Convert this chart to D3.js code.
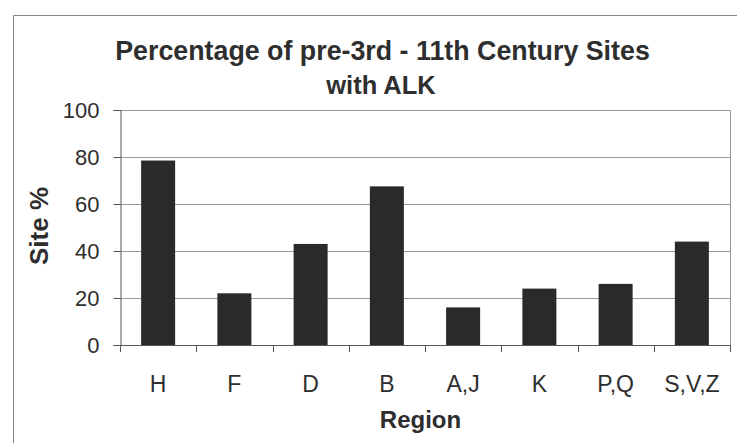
<!DOCTYPE html>
<html>
<head>
<meta charset="utf-8">
<script src="https://cdn.jsdelivr.net/npm/d3@7"></script>
<style>
  html, body { margin: 0; padding: 0; background: #fff; }
  svg { display: block; font-family: "Liberation Sans", Arial, sans-serif; }
</style>
</head>
<body>
<svg id="chart" width="737" height="443"></svg>
<script>
const categories = ["H", "F", "D", "B", "A,J", "K", "P,Q", "S,V,Z"];
const values = [78.5, 22, 43, 67.5, 16, 24, 26, 44];
const yTicks = [0, 20, 40, 60, 80, 100];
const titleLines = ["Percentage of pre-3rd - 11th Century Sites", "with ALK"];
const xTitle = "Region";
const yTitle = "Site %";

const svg = d3.select("#chart");
const W = 737, H = 443;
const plot = { left: 120, right: 730, top: 110, bottom: 345 };
const textColor = "#2e2e2e";

svg.append("rect").attr("width", W).attr("height", H).attr("fill", "#fff");

// Chart area border (only top and left visible)
svg.append("path")
  .attr("d", `M13.5,${H} L13.5,15.5 L${W},15.5`)
  .attr("fill", "none").attr("stroke", "#8a8a8a").attr("stroke-width", 1);

const x = d3.scaleBand().domain(categories)
  .range([plot.left, plot.right])
  .paddingInner(0.554).paddingOuter(0.277);
const y = d3.scaleLinear().domain([0, 100]).range([plot.bottom, plot.top]);

// Gridlines
svg.append("g").selectAll("line").data(yTicks.filter(d => d > 0)).join("line")
  .attr("x1", plot.left).attr("x2", plot.right)
  .attr("y1", d => Math.round(y(d)) + 0.5).attr("y2", d => Math.round(y(d)) + 0.5)
  .attr("stroke", "#999").attr("stroke-width", 1);

// Right border of plot area
svg.append("line")
  .attr("x1", plot.right + 0.5).attr("x2", plot.right + 0.5)
  .attr("y1", plot.top).attr("y2", plot.bottom + 6)
  .attr("stroke", "#999");

// Bars
svg.append("g").selectAll("rect").data(values).join("rect")
  .attr("x", (d, i) => x(categories[i]))
  .attr("width", x.bandwidth())
  .attr("y", d => y(d))
  .attr("height", d => y(0) - y(d))
  .attr("fill", "#2a2a2a");

// Y axis
const yAxis = d3.axisLeft(y).tickValues(yTicks).tickSize(7).tickPadding(14);
const gy = svg.append("g").attr("transform", `translate(${plot.left + 0.5},0)`).call(yAxis);
gy.select(".domain").attr("stroke", "#555");
gy.selectAll(".tick line").attr("stroke", "#555");
gy.selectAll(".tick text").attr("font-size", 22).attr("fill", textColor)
  .attr("font-family", "Liberation Sans, Arial, sans-serif");

// X axis: ticks at category boundaries
const boundaries = categories.map(c => x(c) - x.step() * x.paddingInner() / 2).concat([plot.right]);
svg.append("line")
  .attr("x1", plot.left).attr("x2", plot.right)
  .attr("y1", plot.bottom + 0.5).attr("y2", plot.bottom + 0.5)
  .attr("stroke", "#555");
svg.append("g").selectAll("line").data(boundaries).join("line")
  .attr("x1", d => Math.round(d) + 0.5).attr("x2", d => Math.round(d) + 0.5)
  .attr("y1", plot.bottom).attr("y2", plot.bottom + 7)
  .attr("stroke", "#555");
svg.append("g").selectAll("text").data(categories).join("text")
  .attr("x", d => x(d) + x.bandwidth() / 2)
  .attr("y", 392)
  .attr("text-anchor", "middle")
  .attr("font-size", 23).attr("fill", textColor)
  .text(d => d);

// Title
svg.append("text").attr("x", 382.5).attr("y", 60)
  .attr("text-anchor", "middle").attr("font-size", 26.8).attr("font-weight", "bold")
  .attr("fill", textColor).text(titleLines[0]);
svg.append("text").attr("x", 381).attr("y", 94)
  .attr("text-anchor", "middle").attr("font-size", 25.5).attr("font-weight", "bold")
  .attr("fill", textColor).text(titleLines[1]);

// Axis titles
svg.append("text").attr("x", 420.5).attr("y", 428)
  .attr("text-anchor", "middle").attr("font-size", 24).attr("font-weight", "bold")
  .attr("fill", textColor).text(xTitle);
svg.append("text")
  .attr("transform", "translate(48,226) rotate(-90)")
  .attr("text-anchor", "middle").attr("font-size", 26).attr("font-weight", "bold")
  .attr("fill", textColor).text(yTitle);
</script>
</body>
</html>
